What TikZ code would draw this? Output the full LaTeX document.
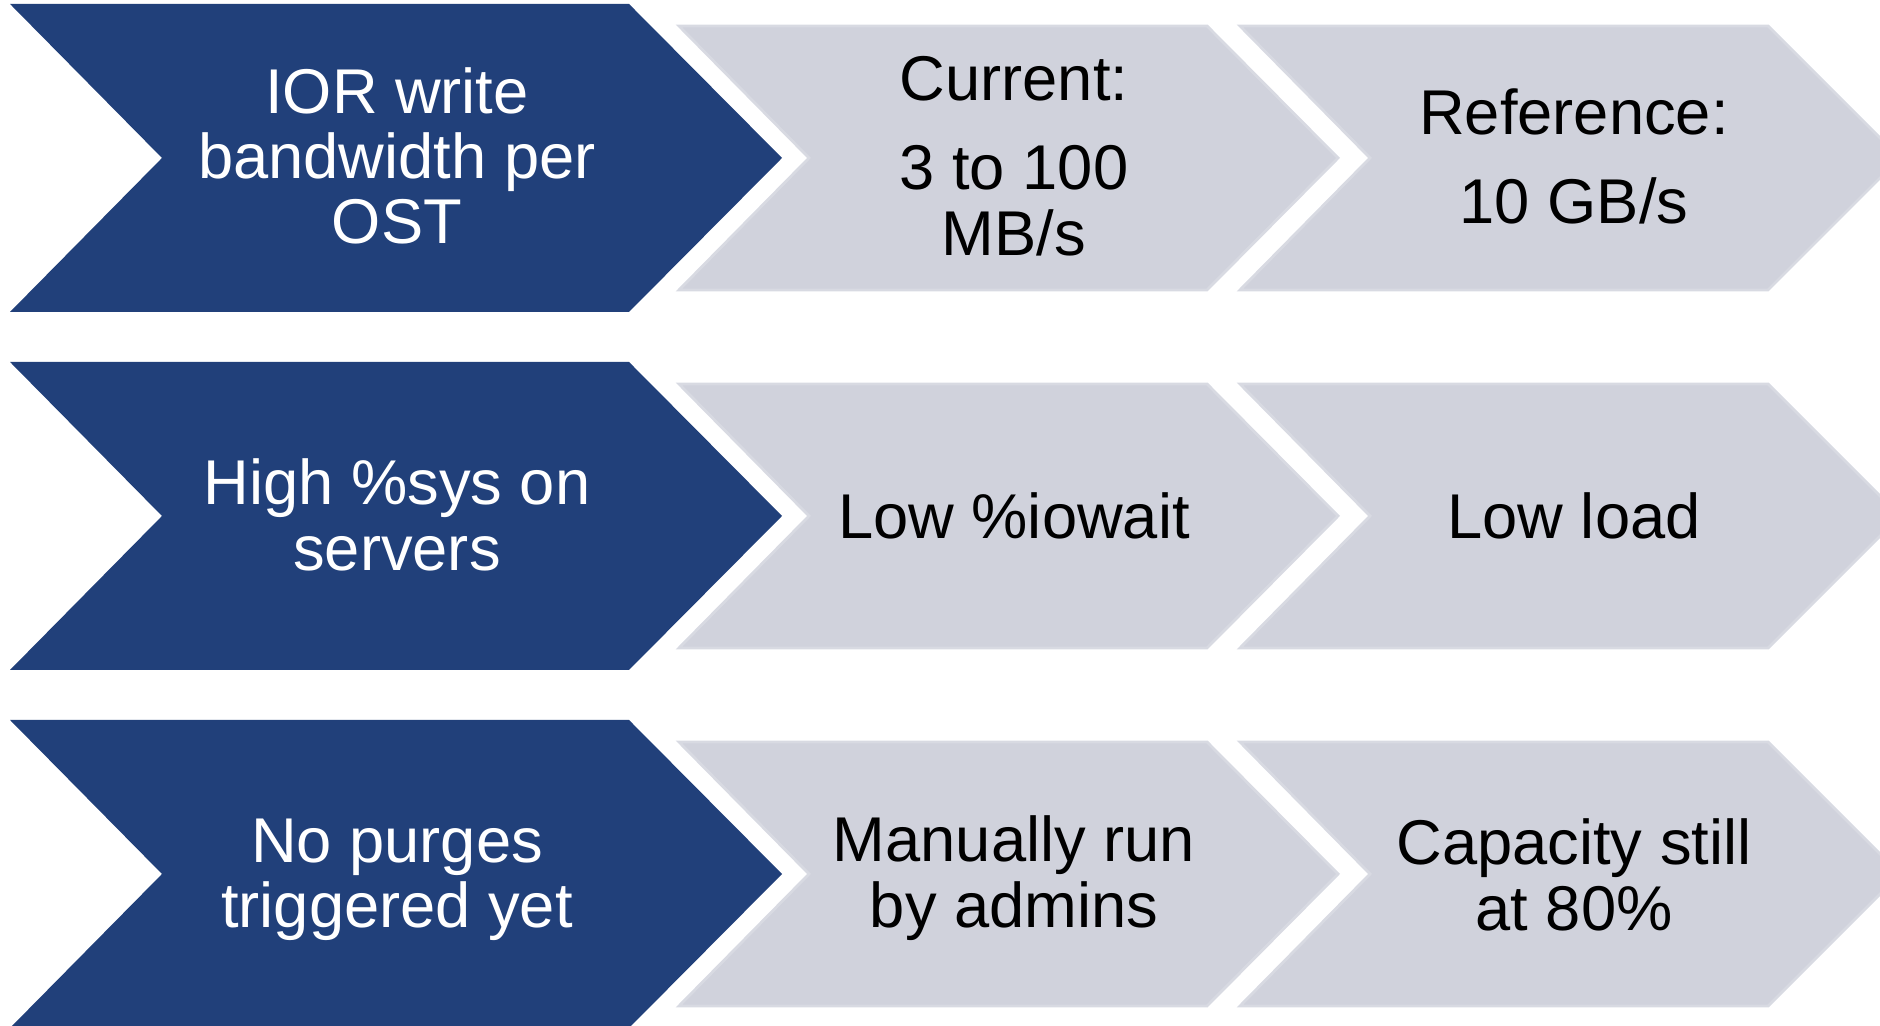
\documentclass[tikz,border=0pt]{standalone}
\usepackage{fontspec}
\setmainfont{Liberation Sans}
\usepackage{tikz}

\definecolor{chevblue}{RGB}{33,64,122}
\definecolor{chevgray}{RGB}{208,210,220}
\definecolor{chevline}{RGB}{216,218,226}

\begin{document}
\begin{tikzpicture}[
    bluechev/.style={fill=chevblue},
    graychev/.style={fill=chevgray,draw=chevline,line width=0.8pt},
    bluetext/.style={text=white,align=center,font=\fontsize{18}{18.6}\selectfont},
    graytext/.style={text=black,align=center,font=\fontsize{18}{18.8}\selectfont}
  ]

    \useasboundingbox (0,0) rectangle (18.8,10.26);
    \clip (0,0) rectangle (18.8,10.26);

    % row 1
    \fill[bluechev] (0.10,10.22) -- (6.29,10.22) -- (7.82,8.68) -- (6.29,7.14) -- (0.10,7.14) -- (1.62,8.68) -- cycle;
    \filldraw[graychev] (6.79,10.00) -- (12.07,10.00) -- (13.38,8.68) -- (12.07,7.36) -- (6.79,7.36) -- (8.09,8.68) -- cycle;
    \filldraw[graychev] (12.40,10.00) -- (17.68,10.00) -- (19.00,8.68) -- (17.68,7.36) -- (12.40,7.36) -- (13.70,8.68) -- cycle;

    \node[bluetext] (B1) at (3.97,8.70) {IOR write\\bandwidth per\\OST};
    \node[graytext] (C1) at (10.14,8.70) {Current:\\[6.5pt]3 to 100\\MB/s};
    \node[graytext] (R1) at (15.74,8.70) {Reference:\\[6.5pt]10 GB/s};

    % row 2
    \fill[bluechev] (0.10,6.64) -- (6.29,6.64) -- (7.82,5.10) -- (6.29,3.56) -- (0.10,3.56) -- (1.62,5.10) -- cycle;
    \filldraw[graychev] (6.79,6.42) -- (12.07,6.42) -- (13.38,5.10) -- (12.07,3.78) -- (6.79,3.78) -- (8.09,5.10) -- cycle;
    \filldraw[graychev] (12.40,6.42) -- (17.68,6.42) -- (19.00,5.10) -- (17.68,3.78) -- (12.40,3.78) -- (13.70,5.10) -- cycle;

    \node[bluetext] (B2) at (3.97,5.11) {High \%sys on\\servers};
    \node[graytext] (C2) at (10.14,5.10) {Low \%iowait};
    \node[graytext] (R2) at (15.74,5.10) {Low load};

    % row 3
    \fill[bluechev] (0.10,3.06) -- (6.29,3.06) -- (7.82,1.52) -- (6.29,-0.02) -- (0.10,-0.02) -- (1.62,1.52) -- cycle;
    \filldraw[graychev] (6.79,2.84) -- (12.07,2.84) -- (13.38,1.52) -- (12.07,0.20) -- (6.79,0.20) -- (8.09,1.52) -- cycle;
    \filldraw[graychev] (12.40,2.84) -- (17.68,2.84) -- (19.00,1.52) -- (17.68,0.20) -- (12.40,0.20) -- (13.70,1.52) -- cycle;

    \node[bluetext] (B3) at (3.97,1.46) {No purges\\triggered yet};
    \node[graytext] (C3) at (10.14,1.48) {Manually run\\by admins};
    \node[graytext] (R3) at (15.74,1.51) {Capacity still\\at 80\%};

  \end{tikzpicture}
\end{document}
